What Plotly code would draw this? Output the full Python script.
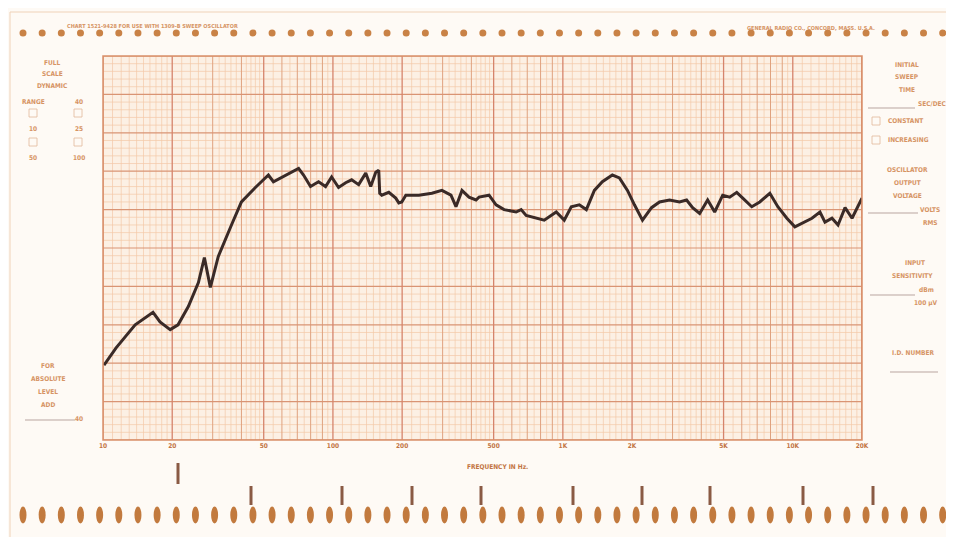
import plotly.graph_objects as go
import numpy as np

# ---- data ----
freq_hz = [10.1, 11.4, 13.8, 16.5, 17.7, 19.6, 21.2, 23.5, 26.0, 27.6, 29.3, 31.7, 36.2, 40.0,
           46.0, 52.4, 55.1, 59.1, 64.1, 70.9, 74.5, 79.9, 86.6, 92.9, 98.7, 105.8, 113.6,
           120.6, 129.4, 138.9, 146.0, 153.6, 158.2, 159.8, 163.1, 175.0, 187.6, 193.4, 199.3,
           207.5, 236.5, 269.4, 297.9, 326.1, 342.9, 364.2, 390.6, 419.1, 431.9, 477.5, 512.3,
           555.2, 626.3, 658.5, 692.4, 750.4, 829.7, 935.9, 1014, 1088, 1179, 1265, 1371, 1485,
           1642, 1762, 1910, 2048, 2220, 2430, 2633, 2911, 3218, 3453, 3667, 3935, 4263, 4574,
           4957, 5318, 5705, 6059, 6631, 7187, 7946, 8610, 9425, 10212, 11066, 12116, 13131,
           13804, 14810, 15729, 16879, 18100, 20000]
level_db = [7.8, 9.6, 12.0, 13.3, 12.3, 11.5, 12.0, 13.9, 16.4, 19.0, 15.9, 19.1, 22.4, 24.8,
            26.3, 27.6, 26.9, 27.3, 27.8, 28.3, 27.6, 26.4, 26.9, 26.4, 27.4, 26.3, 26.8,
            27.1, 26.6, 27.8, 26.4, 27.9, 28.1, 25.7, 25.5, 25.8, 25.2, 24.7, 24.8,
            25.5, 25.5, 25.7, 26.0, 25.5, 24.3, 26.0, 25.3, 25.0, 25.3, 25.5, 24.5,
            24.0, 23.75, 24.0, 23.4, 23.2, 22.9, 23.75, 22.9, 24.3, 24.5, 24.0, 26.0, 26.9,
            27.6, 27.3, 26.0, 24.5, 22.9, 24.2, 24.8, 25.0, 24.8, 25.0, 24.2, 23.6, 25.0, 23.75,
            25.5, 25.3, 25.8, 25.2, 24.3, 24.8, 25.7, 24.3, 23.1, 22.2, 22.6, 23.1, 23.75,
            22.7, 23.1, 22.4, 24.2, 23.1, 25.2]

tick_vals = [10, 20, 50, 100, 200, 500, 1000, 2000, 5000, 10000, 20000]
tick_text = ["10", "20", "50", "100", "200", "500", "1K", "2K", "5K", "10K", "20K"]
range_labels = ["40", "10", "25", "50", "100"]

F_MIN, F_MAX = 10, 20000
DB_MIN, DB_MAX = 0, 40

# ---- page geometry helpers (page pixel -> paper) ----
PAGE_OFF = 8          # default body margin of the html page
L, R, T, B = 103, 862, 56, 440
def xp(px):
    return (px - L) / (R - L)
def yp(py):
    return (B - py) / (B - T)

ORANGE = "#d69464"
ORANGE_D = "#c27443"
FONT = "Liberation Sans Narrow, DejaVu Sans Condensed, Arial Narrow, sans-serif"

fig = go.Figure()

# ---- grid (chart paper) ----
def vlines(vals):
    xs, ys = [], []
    for v in vals:
        xs += [v, v, None]
        ys += [DB_MIN, DB_MAX, None]
    return xs, ys
def hlines(vals):
    xs, ys = [], []
    for v in vals:
        xs += [F_MIN, F_MAX, None]
        ys += [v, v, None]
    return xs, ys

minor_v, major_v, accent_v = [], [], []
for k in range(1, 5):
    base = 10 ** k
    for m in np.arange(1.1, 2.0, 0.1):
        minor_v.append(m * base)
    for m in np.arange(2.2, 5.0, 0.2):
        if abs(m - round(m)) > 1e-6:
            minor_v.append(m * base)
    for m in np.arange(5.5, 10, 1.0):
        minor_v.append(m * base)
    for m in range(1, 10):
        f = m * base
        if f <= F_MAX:
            (accent_v if m in (1, 2, 5) else major_v).append(f)
minor_v = [f for f in minor_v if F_MIN < f < F_MAX]
accent_v.append(F_MAX)

minor_h = [i * 0.8 for i in range(51) if i % 5 != 0]
major_h = [i * 4 for i in range(11)]

for xs_ys, col, w in [
    (vlines(minor_v), "#f3c8a8", 0.7),
    (hlines(minor_h), "#f3c8a8", 0.7),
    (vlines(major_v), "#dfa27f", 1.0),
    (hlines(major_h), "#d99474", 1.2),
    (vlines(accent_v), "#d5846c", 1.3),
]:
    fig.add_trace(go.Scatter(x=xs_ys[0], y=xs_ys[1], mode="lines",
                             line=dict(color=col, width=w), hoverinfo="skip",
                             showlegend=False))

# ---- the recorded response curve ----
fig.add_trace(go.Scatter(x=freq_hz, y=level_db, mode="lines",
                         line=dict(color="#3a2a27", width=3),
                         showlegend=False, name="Response"))

# ---- decorations: sprocket holes, marks, borders ----
shapes = []
for k in range(49):
    cx = 23 + 19.16 * k
    shapes.append(dict(type="circle", xref="paper", yref="paper",
                       x0=xp(cx - 3.5), x1=xp(cx + 3.5), y0=yp(33 + 3.5), y1=yp(33 - 3.5),
                       fillcolor="#c98246", line=dict(width=0)))
    shapes.append(dict(type="circle", xref="paper", yref="paper",
                       x0=xp(cx - 3.5), x1=xp(cx + 3.5), y0=yp(515 + 8.5), y1=yp(515 - 8.5),
                       fillcolor="#c27a3e", line=dict(width=0)))
# event marks below the chart
shapes.append(dict(type="rect", xref="paper", yref="paper",
                   x0=xp(176.5), x1=xp(179.5), y0=yp(484), y1=yp(463),
                   fillcolor="#8a5a44", line=dict(width=0)))
for mx in [251, 342, 412, 481, 573, 642, 710, 803, 873]:
    shapes.append(dict(type="rect", xref="paper", yref="paper",
                       x0=xp(mx - 1.5), x1=xp(mx + 1.5), y0=yp(505), y1=yp(486),
                       fillcolor="#8a5a44", line=dict(width=0)))
# card outline
shapes.append(dict(type="rect", xref="paper", yref="paper",
                   x0=xp(10), x1=xp(960), y0=yp(545), y1=yp(12),
                   line=dict(color="#efd2b8", width=1)))
# plot frame
shapes.append(dict(type="rect", xref="paper", yref="paper", x0=0, x1=1, y0=0, y1=1,
                   line=dict(color="#d9906a", width=1.5)))
# side rules
for x0, x1, yy in [(25, 75, 420), (868, 915, 108), (868, 918, 213), (870, 915, 295), (890, 938, 372)]:
    shapes.append(dict(type="line", xref="paper", yref="paper",
                       x0=xp(x0), x1=xp(x1), y0=yp(yy), y1=yp(yy),
                       line=dict(color="#b9a5a0", width=1)))
# check boxes
for bx, by in [(33, 113), (78, 113), (33, 142), (78, 142), (876, 121), (876, 140)]:
    shapes.append(dict(type="rect", xref="paper", yref="paper",
                       x0=xp(bx - 4), x1=xp(bx + 4), y0=yp(by + 4), y1=yp(by - 4),
                       line=dict(color="#e2b89a", width=0.8)))

# ---- texts ----
ann = []
def txt(s, px, py, size=6.5, anchor="center", color=ORANGE):
    ann.append(dict(text="<b>" + s + "</b>", xref="paper", yref="paper",
                    x=xp(px), y=yp(py), xanchor=anchor, yanchor="middle",
                    showarrow=False, font=dict(family=FONT, size=size, color=color)))

txt("CHART 1521-9428 FOR USE WITH 1309-B SWEEP OSCILLATOR", 65, 26, 5.5, "left")
txt("GENERAL RADIO CO., CONCORD, MASS. U.S.A.", 745, 28, 5.5, "left")

txt("FULL", 52, 63); txt("SCALE", 52, 74); txt("DYNAMIC", 52, 86)
txt("RANGE", 33, 102); txt(range_labels[0], 79, 102)
txt(range_labels[1], 33, 129); txt(range_labels[2], 79, 129)
txt(range_labels[3], 33, 158); txt(range_labels[4], 79, 158)

txt("FOR", 48, 366); txt("ABSOLUTE", 48, 379); txt("LEVEL", 48, 392); txt("ADD", 48, 405)
txt("40", 79, 419)

txt("INITIAL", 907, 65); txt("SWEEP", 907, 77); txt("TIME", 907, 90)
txt("SEC/DEC", 932, 104)
txt("CONSTANT", 886, 121, anchor="left"); txt("INCREASING", 886, 140, anchor="left")
txt("OSCILLATOR", 907, 170); txt("OUTPUT", 907, 183); txt("VOLTAGE", 907, 196)
txt("VOLTS", 930, 210); txt("RMS", 930, 223)
txt("INPUT", 915, 263); txt("SENSITIVITY", 912, 276)
txt("dBm", 926, 290); txt("100 μV", 926, 303)
txt("I.D. NUMBER", 913, 353)
txt("FREQUENCY IN Hz.", 497, 467, 6.5, color=ORANGE_D)

fig.update_layout(
    width=954 - PAGE_OFF, height=537 - PAGE_OFF,
    margin=dict(l=L - PAGE_OFF, r=954 - R, t=T - PAGE_OFF, b=537 - B),
    paper_bgcolor="#fefaf5", plot_bgcolor="#fcf0e4",
    shapes=shapes, annotations=ann, showlegend=False,
    xaxis=dict(type="log", range=[np.log10(F_MIN), np.log10(F_MAX)],
               tickvals=tick_vals, ticktext=["<b>" + t + "</b>" for t in tick_text],
               tickfont=dict(family=FONT, size=6.5, color=ORANGE_D),
               showgrid=False, zeroline=False, ticks="", showline=False, fixedrange=True),
    yaxis=dict(range=[DB_MIN, DB_MAX], showticklabels=False, showgrid=False,
               zeroline=False, ticks="", showline=False, fixedrange=True),
)

fig.write_html("out.html")
